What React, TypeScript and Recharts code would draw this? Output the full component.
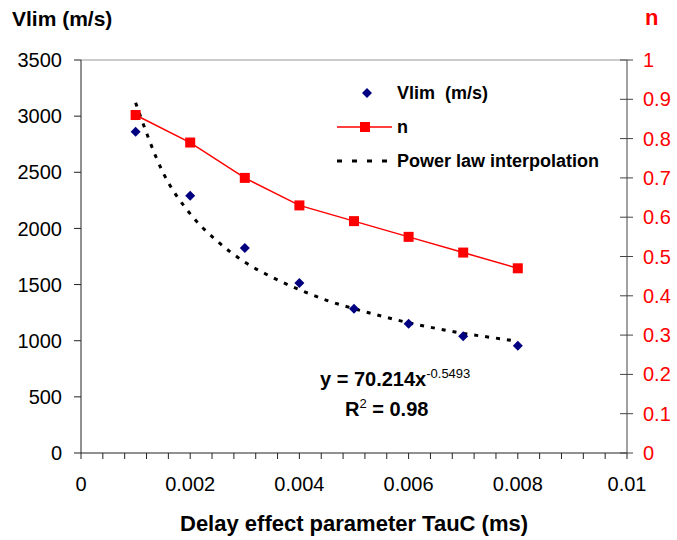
import { ComposedChart, Line, Scatter, XAxis, YAxis, ReferenceLine } from "recharts";

const tauC = [0.001, 0.002, 0.003, 0.004, 0.005, 0.006, 0.007, 0.008];
const vlim = [2860, 2290, 1825, 1515, 1285, 1150, 1040, 955];
const nValues = [0.86, 0.79, 0.70, 0.63, 0.59, 0.55, 0.51, 0.47];

const fitX = [0.001, 0.0015, 0.002, 0.0025, 0.003, 0.0035, 0.004, 0.0045, 0.005, 0.0055, 0.006, 0.0065, 0.007, 0.0075, 0.008];
const fitY = [3120, 2500, 2130, 1885, 1700, 1565, 1455, 1360, 1285, 1220, 1160, 1110, 1065, 1030, 995];

const xTicks = [0, 0.0004, 0.0008, 0.0012, 0.0016, 0.002, 0.0024, 0.0028, 0.0032, 0.0036, 0.004, 0.0044, 0.0048, 0.0052, 0.0056, 0.006, 0.0064, 0.0068, 0.0072, 0.0076, 0.008, 0.0084, 0.0088, 0.0092, 0.0096, 0.01];
const xLabels: Record<string, string> = { "0": "0", "0.002": "0.002", "0.004": "0.004", "0.006": "0.006", "0.008": "0.008", "0.01": "0.01" };
const leftTicks = [0, 500, 1000, 1500, 2000, 2500, 3000, 3500];
const rightTicks = [0, 0.1, 0.2, 0.3, 0.4, 0.5, 0.6, 0.7, 0.8, 0.9, 1];

const vlimData = tauC.map((x, i) => ({ x, v: vlim[i] }));
const nData = tauC.map((x, i) => ({ x, n: nValues[i] }));
const fitData = fitX.map((x, i) => ({ x, f: fitY[i] }));

const FONT = "'Liberation Sans', Arial, sans-serif";
const RED = "#ff0000";
const NAVY = "#000080";

function Diamond(props: any) {
  const { cx, cy } = props;
  if (cx == null || cy == null) return null;
  const r = 5;
  return <polygon points={`${cx},${cy - r} ${cx + r},${cy} ${cx},${cy + r} ${cx - r},${cy}`} fill={NAVY} />;
}

function Square(props: any) {
  const { cx, cy } = props;
  if (cx == null || cy == null) return null;
  return <rect x={cx - 5} y={cy - 5} width={10} height={10} fill={RED} />;
}

function XTick(props: any) {
  const { x, y, payload } = props;
  const key = String(Math.round(payload.value * 10000) / 10000);
  const label = xLabels[key];
  return (
    <g>
      <line x1={x} y1={y - 8} x2={x} y2={y - 2} stroke="#222" strokeWidth={1} />
      {label !== undefined && (
        <text x={x} y={y + 30} textAnchor="middle" fontFamily={FONT} fontSize={20} fill="#000">
          {label}
        </text>
      )}
    </g>
  );
}

function RightTick(props: any) {
  const { x, y, payload } = props;
  // inward half of the crossing tick mark (outer half is drawn by tickLine)
  return (
    <g>
      <line x1={x - 16} y1={y} x2={x - 23} y2={y} stroke="#444" strokeWidth={1} />
      <text x={x} y={y} dy={7} textAnchor="start" fontFamily={FONT} fontSize={20} fill={RED}>
        {String(payload.value)}
      </text>
    </g>
  );
}

function LegendBox() {
  const row = { display: "flex", alignItems: "center", height: 34 } as const;
  const text = { fontFamily: FONT, fontWeight: 700, fontSize: 18, color: "#000", whiteSpace: "nowrap" } as const;
  return (
    <div style={{ position: "absolute", left: 335, top: 76 }}>
      <div style={row}>
        <svg width={62} height={14}>
          <polygon points="32,2 37,7 32,12 27,7" fill={NAVY} />
        </svg>
        <span style={text}>Vlim&nbsp;&nbsp;(m/s)</span>
      </div>
      <div style={row}>
        <svg width={62} height={14}>
          <line x1={2} y1={7} x2={57} y2={7} stroke={RED} strokeWidth={1.5} />
          <rect x={25} y={2} width={10} height={10} fill={RED} />
        </svg>
        <span style={text}>n</span>
      </div>
      <div style={row}>
        <svg width={62} height={14}>
          <line x1={2} y1={7} x2={60} y2={7} stroke="#000" strokeWidth={3} strokeDasharray="5 10" />
        </svg>
        <span style={text}>Power law interpolation</span>
      </div>
    </div>
  );
}

export default function App() {
  return (
    <div style={{ position: "relative", width: 677, height: 540, background: "#fff" }}>
      <style>{`body{margin:0}`}</style>
      <ComposedChart width={677} height={540} margin={{ top: 60, right: 0, bottom: 0, left: 0 }}>
        <XAxis
          dataKey="x"
          type="number"
          domain={[0, 0.01]}
          ticks={xTicks}
          interval={0}
          tick={<XTick />}
          tickLine={false}
          axisLine={{ stroke: "#222", strokeWidth: 1 }}
          height={87}
          allowDuplicatedCategory={false}
        />
        <YAxis
          yAxisId="left"
          type="number"
          domain={[0, 3500]}
          ticks={leftTicks}
          interval={0}
          width={81}
          tick={{ fontFamily: FONT, fontSize: 20, fill: "#000" }}
          tickLine={{ stroke: "#222" }}
          tickSize={7}
          tickMargin={12}
          axisLine={{ stroke: "#222" }}
        />
        <YAxis
          yAxisId="right"
          orientation="right"
          type="number"
          domain={[0, 1]}
          ticks={rightTicks}
          interval={0}
          width={50}
          tick={<RightTick />}
          tickLine={{ stroke: "#444" }}
          tickSize={6}
          tickMargin={10}
          axisLine={{ stroke: "#444" }}
        />
        <ReferenceLine yAxisId="left" y={3500} stroke="#999" strokeWidth={1} />
        <Line
          yAxisId="left"
          data={fitData}
          dataKey="f"
          type="monotone"
          stroke="#000"
          strokeWidth={3}
          strokeDasharray="4 7"
          dot={false}
          activeDot={false}
          isAnimationActive={false}
        />
        <Line
          yAxisId="right"
          data={nData}
          dataKey="n"
          type="linear"
          stroke={RED}
          strokeWidth={1.5}
          dot={<Square />}
          activeDot={false}
          isAnimationActive={false}
        />
        <Scatter yAxisId="left" data={vlimData} dataKey="v" shape={<Diamond />} isAnimationActive={false} />
      </ComposedChart>
      <LegendBox />
      <div style={{ position: "absolute", left: 12, top: 7, fontFamily: FONT, fontWeight: 700, fontSize: 21 }}>Vlim (m/s)</div>
      <div style={{ position: "absolute", left: 645, top: 5, fontFamily: FONT, fontWeight: 700, fontSize: 22, color: RED }}>n</div>
      <div style={{ position: "absolute", left: 180, top: 511, fontFamily: FONT, fontWeight: 700, fontSize: 22, whiteSpace: "nowrap" }}>
        Delay effect parameter TauC (ms)
      </div>
      <div style={{ position: "absolute", left: 320, top: 366, fontFamily: FONT, fontWeight: 700, fontSize: 20, whiteSpace: "nowrap" }}>
        y = 70.214x<sup style={{ fontWeight: 400, fontSize: 13 }}>-0.5493</sup>
      </div>
      <div style={{ position: "absolute", left: 345, top: 396, fontFamily: FONT, fontWeight: 700, fontSize: 20, whiteSpace: "nowrap" }}>
        R<sup style={{ fontWeight: 400, fontSize: 13 }}>2</sup> = 0.98
      </div>
    </div>
  );
}
